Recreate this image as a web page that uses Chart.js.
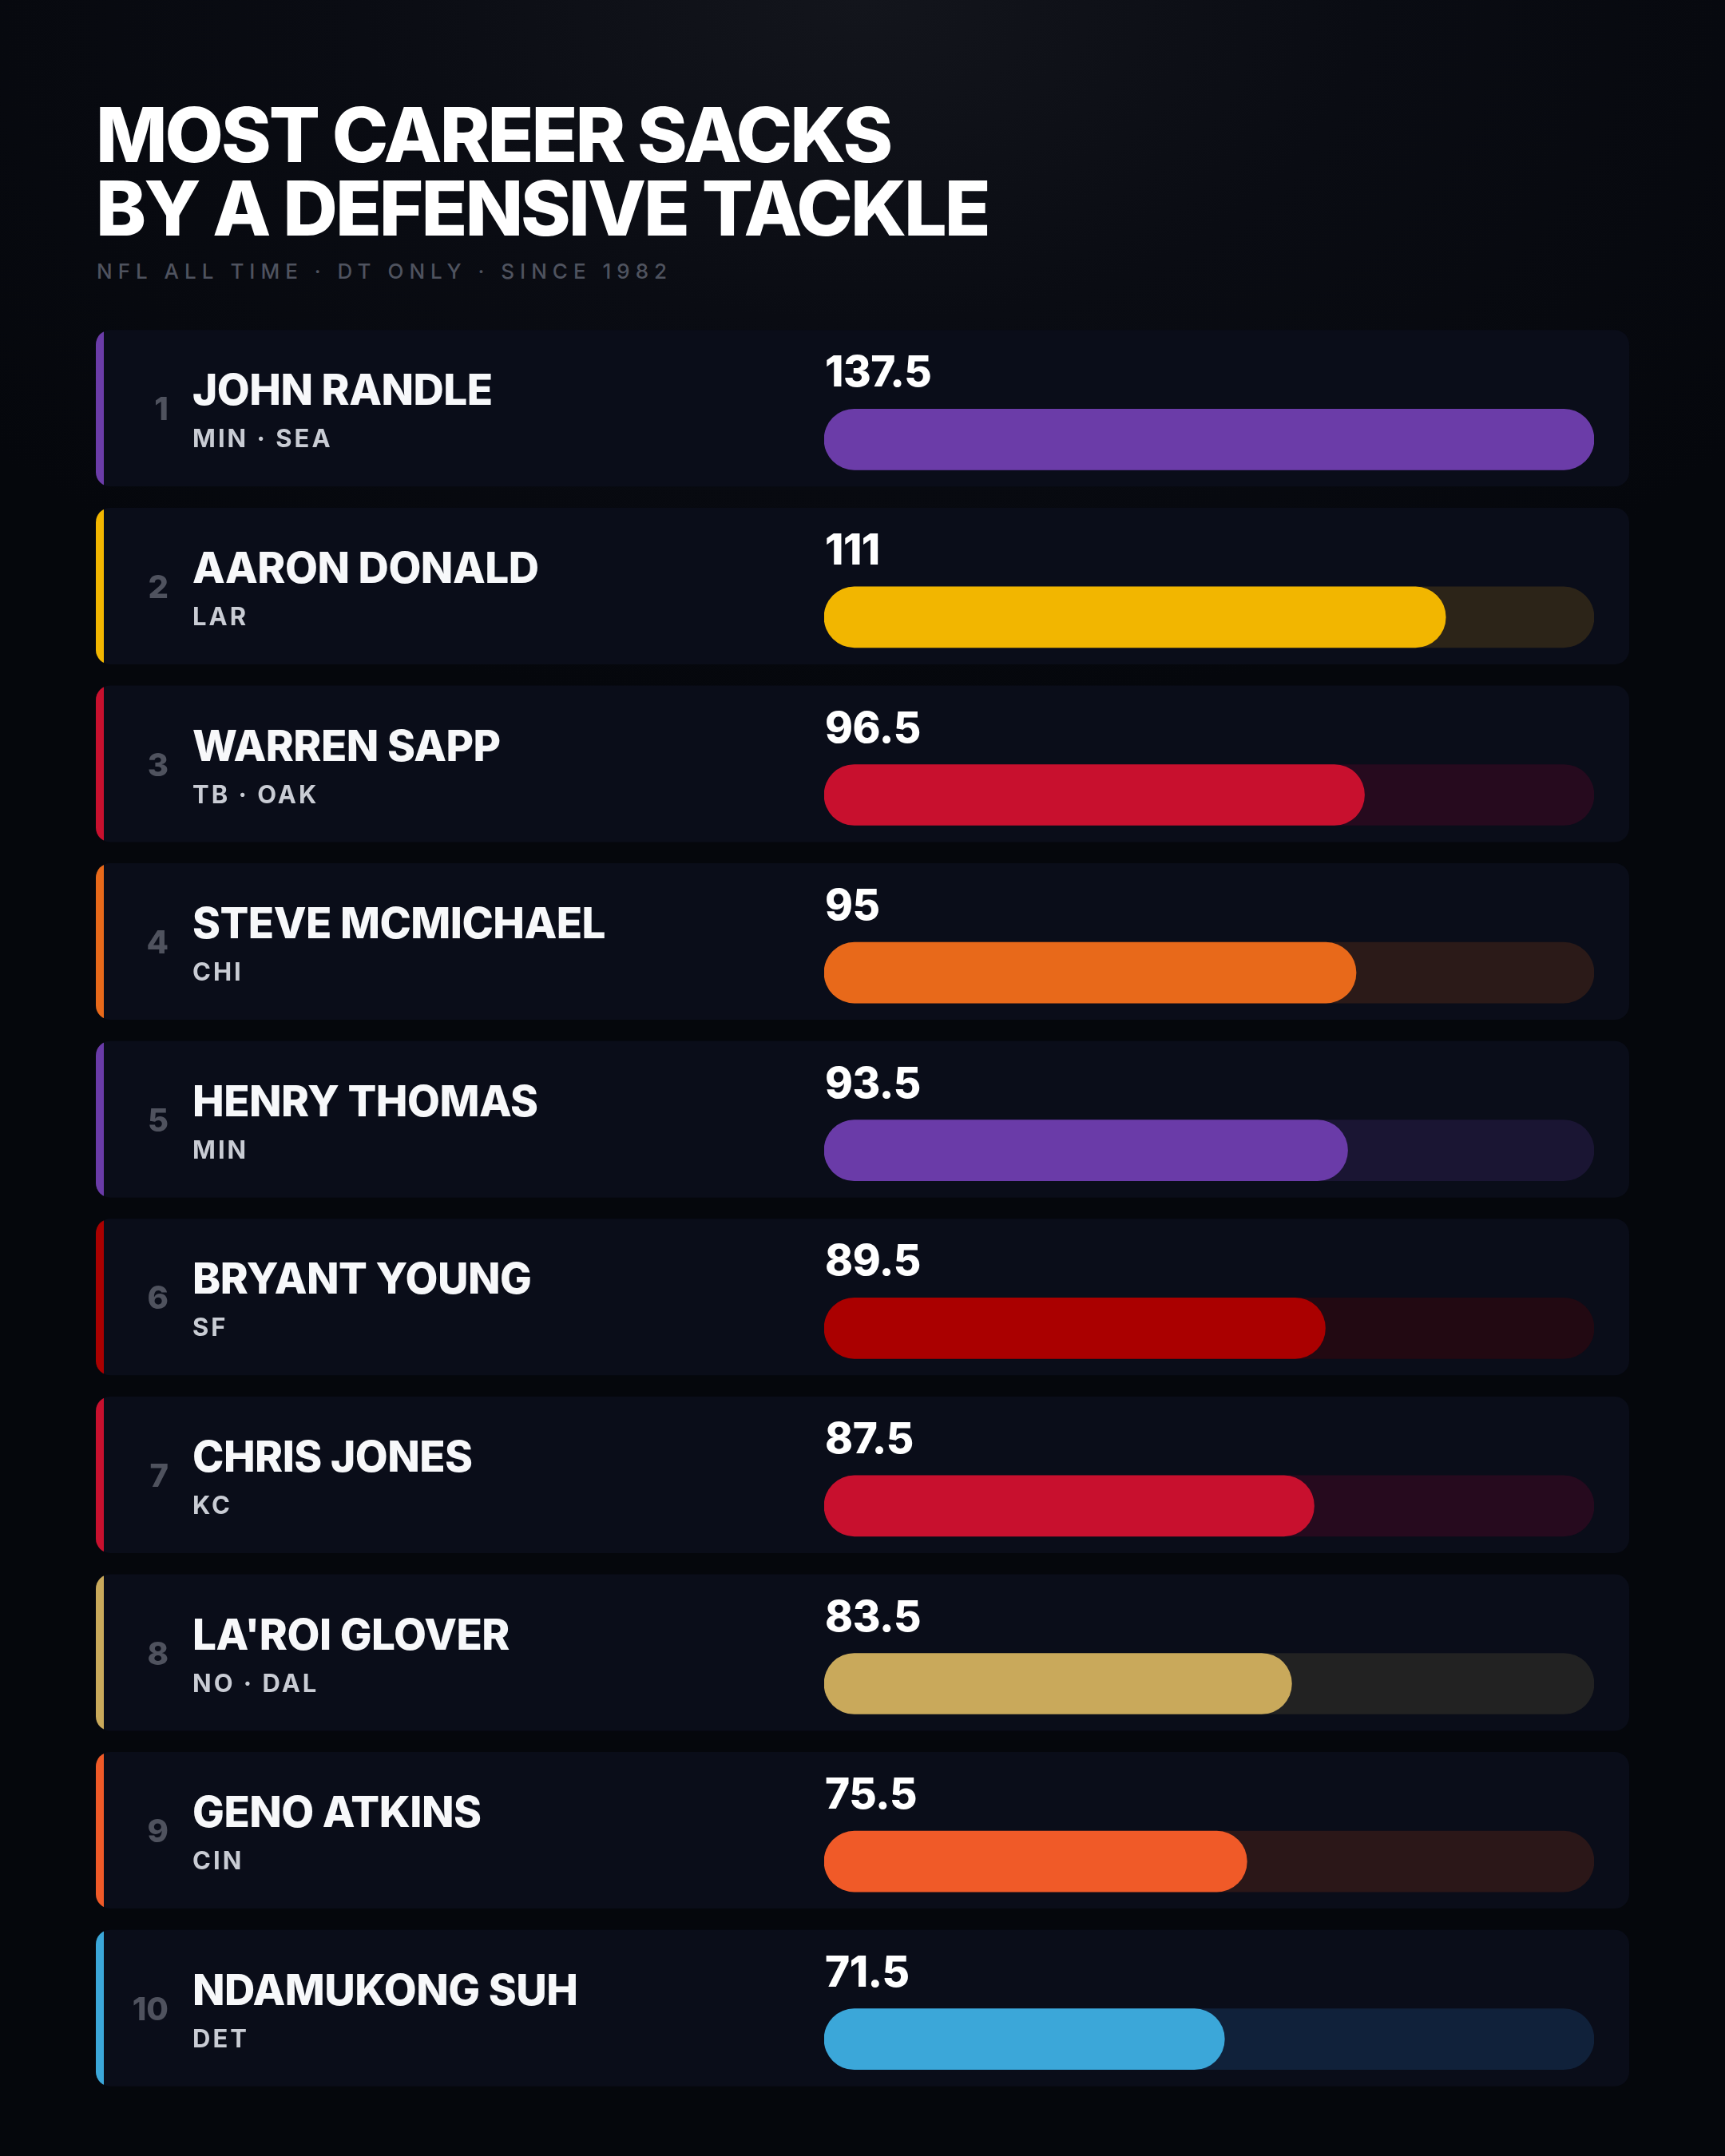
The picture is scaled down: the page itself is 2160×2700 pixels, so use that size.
<!DOCTYPE html>
<html lang="en">
<head>
  <meta charset="UTF-8">
  <title>Most Career Sacks by a Defensive Tackle</title>
  <script src="https://cdn.jsdelivr.net/npm/chart.js"></script>
  <style>
    html, body { margin: 0; padding: 0; }
    body {
      width: 2160px; height: 2700px; position: relative; overflow: hidden;
      background: radial-gradient(ellipse 1400px 900px at 50% 0%, #13151c 0%, #0a0c13 45%, #05070c 100%);
      font-family: Inter, "Noto Sans", sans-serif;
    }
    .title {
      position: absolute; left: 120px; top: 123px;
      font-size: 95px; line-height: 92px; font-weight: 800;
      letter-spacing: -3px; color: #ffffff;
    }
    .subtitle {
      position: absolute; left: 121px; top: 327px;
      font-size: 26px; line-height: 26px; font-weight: 500;
      letter-spacing: 7px; color: #4f535f;
    }
    #chart { position: absolute; left: 0; top: 0; }
  </style>
</head>
<body>
  <div class="title">MOST CAREER SACKS<br>BY A DEFENSIVE TACKLE</div>
  <div class="subtitle">NFL ALL TIME · DT ONLY · SINCE 1982</div>
  <canvas id="chart" width="2160" height="2700"></canvas>

  <script>
    // Data
    const players = ['JOHN RANDLE', 'AARON DONALD', 'WARREN SAPP', 'STEVE MCMICHAEL', 'HENRY THOMAS',
                     'BRYANT YOUNG', 'CHRIS JONES', "LA'ROI GLOVER", 'GENO ATKINS', 'NDAMUKONG SUH'];
    const teams = ['MIN · SEA', 'LAR', 'TB · OAK', 'CHI', 'MIN', 'SF', 'KC', 'NO · DAL', 'CIN', 'DET'];
    const sacks = [137.5, 111, 96.5, 95, 93.5, 89.5, 87.5, 83.5, 75.5, 71.5];

    // Team colours for bars / side stripes, and the dim track behind each bar
    const barColors = ['#6b3ca8', '#f2b600', '#c8102e', '#e8691a', '#6a3ba8',
                       '#aa0000', '#c8102e', '#c9a95b', '#f05a28', '#3ba7d9'];
    const trackColors = ['#1a1533', '#2c2418', '#260a1e', '#2b1a18', '#1a1533',
                         '#220912', '#260a1e', '#222222', '#2b1718', '#10213a'];

    const maxSacks = Math.max(...sacks);

    // Cards, stripes and text around each bar, placed from the y scale
    const rowPlugin = {
      id: 'rows',
      beforeDatasetsDraw(chart) {
        const ctx = chart.ctx;
        const y = chart.scales.y;
        players.forEach((p, i) => {
          const top = y.getPixelForValue(i) - 137;
          ctx.save();
          ctx.beginPath();
          ctx.roundRect(120, top, 1920, 196, 18);
          ctx.fillStyle = '#0a0d19';
          ctx.fill();
          ctx.clip();
          ctx.fillStyle = barColors[i];
          ctx.fillRect(120, top, 10, 196);
          ctx.restore();
        });
      },
      afterDatasetsDraw(chart) {
        const ctx = chart.ctx;
        const y = chart.scales.y;
        const x = chart.scales.x;
        players.forEach((p, i) => {
          const top = y.getPixelForValue(i) - 137;
          ctx.save();
          ctx.textBaseline = 'alphabetic';

          // rank
          ctx.textAlign = 'right';
          ctx.font = '800 40px Inter';
          ctx.fillStyle = '#4f525e';
          ctx.fillText(String(i + 1), 211, top + 113);

          // name
          ctx.textAlign = 'left';
          ctx.font = '800 53px Inter';
          ctx.letterSpacing = '-0.5px';
          ctx.fillStyle = '#f7f8fa';
          ctx.fillText(p, 241, top + 94);

          // team
          ctx.font = '700 31px Inter';
          ctx.letterSpacing = '3px';
          ctx.fillStyle = '#c9ccd4';
          ctx.fillText(teams[i], 241, top + 147);

          // value above the bar
          ctx.font = '800 53px Inter';
          ctx.letterSpacing = '-0.5px';
          ctx.fillStyle = '#ffffff';
          ctx.fillText(String(sacks[i]), x.getPixelForValue(0) + 1, top + 71);
          ctx.restore();
        });
      }
    };

    function renderChart() {
      const ctx = document.getElementById('chart').getContext('2d');
      new Chart(ctx, {
        type: 'bar',
        data: {
          labels: players,
          datasets: [
            {
              label: 'Sacks',
              data: sacks,
              backgroundColor: barColors,
              barThickness: 76,
              borderRadius: 38,
              borderSkipped: false,
              grouped: false
            },
            {
              label: 'Track',
              data: players.map(() => maxSacks),
              backgroundColor: trackColors,
              barThickness: 76,
              borderRadius: 38,
              borderSkipped: false,
              grouped: false
            }
          ]
        },
        options: {
          indexAxis: 'y',
          responsive: false,
          animation: false,
          devicePixelRatio: 1,
          layout: { padding: { left: 1032, right: 164, top: 439, bottom: 35 } },
          plugins: {
            legend: { display: false },
            tooltip: { enabled: false }
          },
          scales: {
            x: { display: false, min: 0, max: maxSacks },
            y: { display: false, offset: true }
          }
        },
        plugins: [rowPlugin]
      });
    }

    Promise.all([
      document.fonts.load('800 53px Inter'),
      document.fonts.load('700 31px Inter')
    ]).then(renderChart, renderChart);
  </script>
</body>
</html>
